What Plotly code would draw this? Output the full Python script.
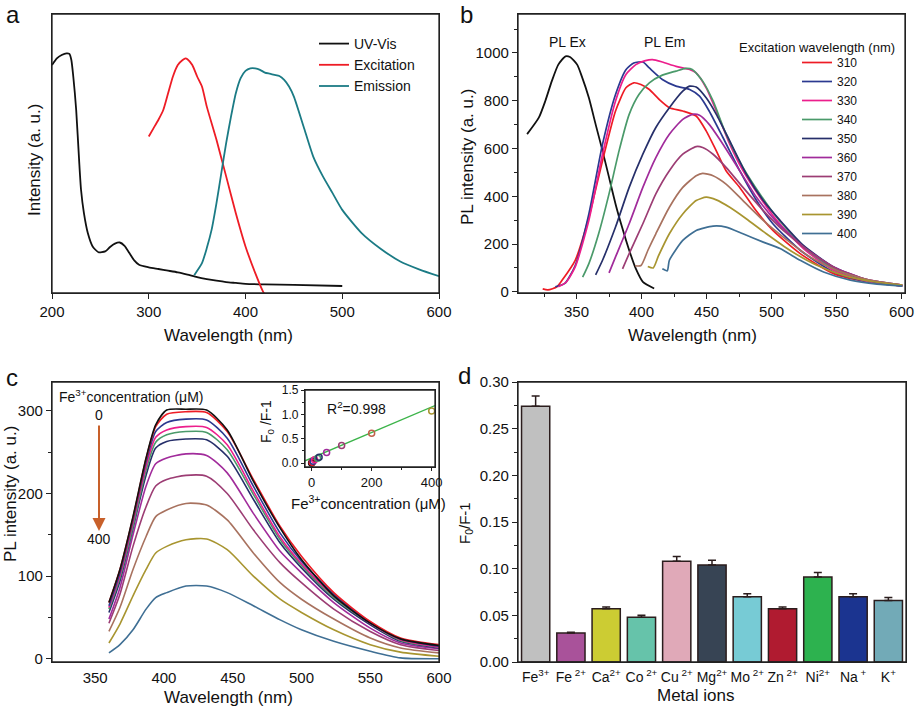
import plotly.graph_objects as go

W, H = 915, 706
FONT = "Liberation Sans, Arial, sans-serif"


def px(x):
    return x / W


def py(y):
    return 1 - y / H


# ---------------- Panel a data ----------------
uv_x = [200, 205, 210, 215, 218, 220, 222, 225, 228, 230, 233, 237, 242, 248, 255, 260, 265, 270, 275,
        280, 285, 290, 300, 310, 320, 330, 340, 350, 360, 370, 380, 390, 400, 420, 450, 500]
uv_y = [0.817, 0.841, 0.853, 0.859, 0.857, 0.835, 0.776, 0.656, 0.477, 0.370, 0.286, 0.215, 0.167, 0.146,
        0.149, 0.165, 0.177, 0.181, 0.169, 0.143, 0.117, 0.101, 0.092, 0.086, 0.080, 0.074, 0.066, 0.057,
        0.050, 0.044, 0.039, 0.036, 0.033, 0.031, 0.029, 0.025]
exc_x = [300, 305, 310, 315, 320, 325, 330, 335, 338, 340, 345, 350, 355, 360, 370, 380, 390, 400, 410, 418, 421]
exc_y = [0.561, 0.591, 0.621, 0.656, 0.716, 0.776, 0.817, 0.835, 0.841, 0.838, 0.817, 0.776, 0.740, 0.668,
         0.549, 0.418, 0.286, 0.167, 0.072, 0.006, -0.01]
emi_x = [347, 355, 360, 365, 370, 375, 380, 385, 390, 395, 400, 405, 410, 415, 420, 425, 430, 435, 440, 445,
         450, 460, 470, 480, 490, 500, 520, 540, 560, 580, 600]
emi_y = [0.064, 0.107, 0.161, 0.227, 0.322, 0.430, 0.537, 0.632, 0.716, 0.770, 0.796, 0.805, 0.805, 0.800,
         0.790, 0.786, 0.782, 0.778, 0.764, 0.740, 0.704, 0.597, 0.489, 0.418, 0.358, 0.298, 0.215, 0.158,
         0.113, 0.084, 0.060]

# ---------------- Panel b data ----------------
plex_x = [312, 321, 326, 331, 336, 341.5, 345, 350.5, 354, 359.5, 364.7, 370, 375, 380, 385, 390.5, 395.6, 401, 409.7]
plex_y = [660, 729, 799, 882, 951, 986, 983, 951, 903, 812, 701, 590, 479, 368, 271, 174, 97, 42, 14]

exc_wavelengths = ["310", "320", "330", "340", "350", "360", "370", "380", "390", "400"]
em_x = [
    [324, 328, 335, 339, 349, 359.5, 370, 380, 388, 394, 399.5, 406, 413.7, 421.4, 431.7, 442, 449.7, 457.5,
     465, 475.5, 488, 501, 522, 547.7, 573.5, 600.5],
    [333.7, 341, 349, 359.5, 370, 380, 388, 394, 401, 406, 416, 426.5, 437, 444.6, 452, 462.6, 475.5, 488.4,
     501, 522, 547.7, 573.5, 600.5],
    [336, 342, 349, 359.5, 370, 380, 388, 395.6, 403, 408.5, 416, 426.5, 437, 442, 449.7, 457.5, 467.8, 478,
     491, 504, 524.5, 547.7, 573.5, 600.5],
    [354.7, 359.5, 367, 375, 382.7, 390.5, 398, 406, 416, 426.5, 434, 439, 447, 455, 465, 478, 491, 504, 524.5,
     547.7, 573.5, 600.5],
    [364.7, 370, 380, 390.5, 401, 411, 421.4, 431.7, 437, 442, 449.7, 457.5, 467.8, 480.5, 493.6, 506.5, 524.5,
     547.7, 573.5, 600.5],
    [375, 380, 390.5, 401, 411, 421.4, 431.7, 439.4, 444.6, 452, 462.6, 475.5, 488.4, 504, 524.5, 547.7, 573.5, 600.5],
    [385.4, 390.5, 401, 411, 421.4, 431.7, 442, 447, 455, 465, 478, 493.6, 509, 529.6, 550, 573.5, 600.5],
    [395, 399.6, 405, 411, 421.4, 431.7, 442, 447, 455, 465, 478, 493.6, 509, 529.6, 550, 573.5, 600.5],
    [404.8, 409, 413, 421.4, 431.7, 442, 449.7, 457.5, 467.8, 480.5, 496, 514, 534.8, 555.4, 578.6, 600.5],
    [416, 419.8, 421.4, 431.7, 442, 455, 465, 478, 493.6, 506.5, 522, 540, 560.6, 581, 600.5],
]
em_y = [
    [12, 8, 21, 49, 132, 312, 549, 757, 854, 875, 868, 847, 805, 771, 757, 736, 674, 590, 507, 437, 340, 257,
     160, 76, 42, 24],
    [21, 35, 110, 326, 618, 826, 930, 958, 962, 937, 889, 861, 847, 819, 757, 646, 507, 382, 285, 174, 83, 42, 24],
    [21, 40, 104, 299, 576, 799, 910, 951, 968, 972, 962, 944, 931, 917, 854, 757, 618, 507, 396, 299, 181, 90, 44, 25],
    [61, 118, 243, 410, 590, 743, 826, 875, 907, 924, 935, 931, 882, 799, 660, 521, 410, 312, 188, 97, 49, 26],
    [71, 132, 271, 437, 576, 688, 771, 840, 861, 857, 812, 743, 632, 493, 382, 299, 194, 104, 49, 26],
    [79, 146, 285, 437, 562, 660, 722, 743, 739, 701, 618, 507, 396, 292, 188, 104, 51, 28],
    [96, 160, 285, 410, 507, 576, 608, 604, 576, 521, 437, 340, 257, 167, 97, 51, 28],
    [109, 110, 175, 243, 354, 437, 486, 496, 486, 451, 382, 299, 229, 146, 90, 51, 28],
    [106, 100, 150, 243, 326, 382, 396, 385, 354, 306, 243, 174, 111, 69, 42, 28],
    [96, 88, 132, 215, 257, 275, 271, 243, 208, 181, 132, 83, 49, 32, 24],
]
em_colors = ["#ee1c25", "#2b3990", "#ec1e8c", "#4a9a6a", "#262f6a", "#a12b9b", "#9c3d74", "#a8725f",
             "#a89530", "#3f6f94"]

# ---------------- Panel c data ----------------
c_x = [360, 368, 377.5, 387, 394, 402, 416, 431, 446, 465, 484.5, 500, 523.5, 550, 572, 600]
c_y = [
    [68, 108, 172, 243, 283, 301, 302, 301, 277, 215, 158, 120, 76, 43, 24, 16],
    [68, 108, 171, 242, 281, 296, 299, 298, 275, 217, 160, 124, 80, 45, 25, 17],
    [64, 104, 168, 238, 275, 286, 290, 289, 267, 209, 152, 118, 78, 44, 24, 15],
    [62, 101, 165, 233, 268, 277, 281, 280, 259, 203, 147, 115, 76, 43, 23, 14],
    [60, 98, 160, 228, 262, 271, 275, 274, 253, 199, 144, 113, 74, 43, 22, 14],
    [56, 94, 158, 222, 255, 263, 266, 265, 245, 193, 140, 110, 72, 41, 21, 13],
    [48, 86, 150, 209, 236, 243, 248, 246, 225, 176, 130, 104, 68, 37, 19, 12],
    [43, 78, 136, 184, 209, 217, 222, 221, 200, 156, 116, 92, 60, 33, 17, 10],
    [33, 62, 108, 148, 172, 180, 188, 186, 168, 128, 92, 72, 48, 25, 13, 7],
    [19, 42, 76, 108, 128, 136, 144, 145, 132, 100, 72, 56, 35, 17, 8, 3],
    [7, 17, 35, 60, 74, 80, 88, 88, 80, 64, 47, 35, 21, 9, 1, 0],
]
c_colors = ["#111111", "#ee1c25", "#2b3990", "#ec1e8c", "#4a9a6a", "#262f6a", "#a12b9b", "#9c3d74",
            "#a8725f", "#a89530", "#3f6f94"]

# inset
ins_conc = [0, 2, 5, 10, 20, 25, 50, 100, 200, 400]
ins_val = [0.00, 0.02, 0.04, 0.07, 0.10, 0.12, 0.22, 0.36, 0.61, 1.07]
ins_colors = ["#111111", "#ee1c25", "#2b3990", "#ec1e8c", "#4a9a6a", "#262f6a", "#a12b9b", "#9c3d74",
              "#c0604a", "#a89530"]
fit_x = [-22, 411]
fit_y = [0.047, 1.18]

# ---------------- Panel d data ----------------
ions = ["Fe<sup>3+</sup>", "Fe<sup> 2+</sup>", "Ca<sup>2+</sup>", "Co<sup> 2+</sup>", "Cu<sup> 2+</sup>",
        "Mg<sup>2+</sup>", "Mo<sup> 2+</sup>", "Zn<sup> 2+</sup>", "Ni<sup>2+</sup>", "Na<sup> +</sup>",
        "K<sup>+</sup>"]
ratio = [0.274, 0.031, 0.057, 0.048, 0.108, 0.104, 0.070, 0.057, 0.091, 0.070, 0.066]
ratio_err = [0.011, 0.001, 0.002, 0.002, 0.005, 0.005, 0.003, 0.002, 0.005, 0.003, 0.003]
bar_colors = ["#c0c0c0", "#a9529a", "#cccc33", "#66c3aa", "#e0a9b8", "#374454", "#77cbd5", "#b01b30",
              "#2db24f", "#1b3490", "#72aab7"]

# plotting-area boxes in pixels (left, right, top, bottom)
BOX_A = (52, 439, 14, 293)
BOX_B = (518, 905, 14, 293)
BOX_C = (52, 439, 382, 662)
BOX_IN = (305, 435, 390, 467)
BOX_D = (518, 906, 382, 662)

fig = go.Figure()

# Panel a
for xs, ys, nm, col in [(uv_x, uv_y, "UV-Vis", "#111111"), (exc_x, exc_y, "Excitation", "#ee1c25"),
                        (emi_x, emi_y, "Emission", "#1b7b85")]:
    fig.add_trace(go.Scatter(x=xs, y=ys, mode="lines", name=nm, xaxis="x", yaxis="y", legend="legend",
                             line=dict(color=col, width=1.8, shape="spline", smoothing=0.6)))

# Panel b
fig.add_trace(go.Scatter(x=plex_x, y=plex_y, mode="lines", showlegend=False, xaxis="x2", yaxis="y2",
                         line=dict(color="#111111", width=1.8, shape="spline", smoothing=0.6)))
for xs, ys, nm, col in zip(em_x, em_y, exc_wavelengths, em_colors):
    fig.add_trace(go.Scatter(x=xs, y=ys, mode="lines", name=nm, xaxis="x2", yaxis="y2", legend="legend2",
                             line=dict(color=col, width=1.7, shape="spline", smoothing=0.6)))

# Panel c
for ys, col in reversed(list(zip(c_y, c_colors))):
    fig.add_trace(go.Scatter(x=c_x, y=ys, mode="lines", showlegend=False, xaxis="x3", yaxis="y3",
                             line=dict(color=col, width=1.6, shape="spline", smoothing=0.7)))

# Inset
fig.add_trace(go.Scatter(x=fit_x, y=fit_y, mode="lines", showlegend=False, xaxis="x4", yaxis="y4",
                         line=dict(color="#3cb44a", width=1.4)))
fig.add_trace(go.Scatter(x=ins_conc, y=ins_val, mode="markers", showlegend=False, xaxis="x4", yaxis="y4",
                         marker=dict(symbol="circle-open", size=6, color=ins_colors, line=dict(width=1.5))))

# Panel d
fig.add_trace(go.Bar(x=ions, y=ratio, xaxis="x5", yaxis="y5", showlegend=False, width=0.8,
                     marker=dict(color=bar_colors, line=dict(color="#2b1d1d", width=1.5)),
                     error_y=dict(type="data", array=ratio_err, arrayminus=[0] * len(ratio_err),
                                  symmetric=False, color="#2b1d1d", thickness=1.5, width=4)))

axbase = dict(showline=True, linecolor="#222222", linewidth=1.3, mirror=True, showgrid=False, zeroline=False,
              ticks="outside", ticklen=5, tickwidth=1.2, tickcolor="#222222",
              tickfont=dict(family=FONT, size=15, color="#111111"), automargin=False)


def xdom(b):
    return [px(b[0]), px(b[1])]


def ydom(b):
    return [py(b[3]), py(b[2])]


fig.update_layout(
    width=W, height=H, margin=dict(l=0, r=0, t=0, b=0),
    paper_bgcolor="white", plot_bgcolor="white",
    font=dict(family=FONT, color="#111111"),
    xaxis=dict(axbase, domain=xdom(BOX_A), range=[200, 600], dtick=100, anchor="y"),
    yaxis=dict(axbase, domain=ydom(BOX_A), range=[0, 1], showticklabels=False, ticks="", anchor="x"),
    xaxis2=dict(axbase, domain=xdom(BOX_B), range=[305, 602.6], tick0=350, dtick=50, anchor="y2",
                minor=dict(dtick=25, ticks="outside", ticklen=3, tickcolor="#222222")),
    yaxis2=dict(axbase, domain=ydom(BOX_B), range=[-5, 1163], dtick=200, anchor="x2",
                minor=dict(dtick=100, ticks="outside", ticklen=3, tickcolor="#222222")),
    xaxis3=dict(axbase, domain=xdom(BOX_C), range=[318.6, 600], tick0=350, dtick=50, ticks="",
                ticklabelstandoff=2, anchor="y3"),
    yaxis3=dict(axbase, domain=ydom(BOX_C), range=[-4, 335], dtick=100, anchor="x3",
                minor=dict(dtick=50, ticks="outside", ticklen=3, tickcolor="#222222")),
    xaxis4=dict(axbase, domain=xdom(BOX_IN), range=[-22, 411], tickvals=[0, 200, 400], anchor="y4",
                tickfont=dict(family=FONT, size=13, color="#111111"), ticklen=3,
                minor=dict(dtick=100, ticks="outside", ticklen=2, tickcolor="#222222")),
    yaxis4=dict(axbase, domain=ydom(BOX_IN), range=[-0.08, 1.5], dtick=0.5, tickformat=".1f",
                anchor="x4", ticklen=3, tickfont=dict(family=FONT, size=12, color="#111111"),
                minor=dict(dtick=0.25, ticks="outside", ticklen=2, tickcolor="#222222")),
    xaxis5=dict(axbase, domain=xdom(BOX_D), range=[-0.5, 10.5], ticks="", anchor="y5",
                tickfont=dict(family=FONT, size=14, color="#111111"), ticklabelstandoff=2),
    yaxis5=dict(axbase, domain=ydom(BOX_D), range=[0, 0.30], dtick=0.05, tickformat=".2f", anchor="x5",
                minor=dict(dtick=0.025, ticks="outside", ticklen=3, tickcolor="#222222")),
    legend=dict(x=px(314), y=py(28), xanchor="left", yanchor="top", bgcolor="rgba(0,0,0,0)",
                font=dict(family=FONT, size=14, color="#111111"), tracegroupgap=0),
    legend2=dict(x=px(797), y=py(48), xanchor="left", yanchor="top", bgcolor="rgba(0,0,0,0)",
                 font=dict(family=FONT, size=12, color="#111111"), tracegroupgap=0),
)

# frames around each plotting area (paper-referenced so that nothing clips them)
for b in [BOX_A, BOX_B, BOX_C, BOX_IN, BOX_D]:
    fig.add_shape(type="rect", xref="paper", yref="paper", x0=px(b[0]), x1=px(b[1]), y0=py(b[3]), y1=py(b[2]),
                  line=dict(color="#222222", width=1.3), fillcolor="rgba(0,0,0,0)", layer="above")

ann = []


def txt(x, y, t, size, angle=0, xanchor="center", yanchor="middle"):
    ann.append(dict(x=px(x), y=py(y), xref="paper", yref="paper", text=t, showarrow=False,
                    textangle=angle, xanchor=xanchor, yanchor=yanchor,
                    font=dict(family=FONT, size=size, color="#111111")))


# panel letters
txt(13, 15, "a", 24)
txt(466, 15, "b", 24)
txt(12, 377, "c", 24)
txt(464, 375, "d", 24)
# axis titles
txt(34, 160, "Intensity (a. u.)", 17, -90)
txt(228, 335, "Wavelength (nm)", 17)
txt(467, 157, "PL intensity (a. u.)", 17, -90)
txt(692, 335, "Wavelength (nm)", 17)
txt(10, 494, "PL intensity (a. u.)", 17, -90)
txt(228, 697, "Wavelength (nm)", 17)
txt(465, 523, "F<sub>0</sub>/F-1", 15, -90)
txt(695, 695, "Metal ions", 17)
# panel b texts
txt(567, 42, "PL Ex", 14)
txt(665, 42, "PL Em", 14)
txt(737, 47, "Excitation wavelength (nm)", 13, xanchor="left")
# panel c texts
txt(57, 396, "Fe<sup>3+</sup>concentration (μM)", 14, xanchor="left")
txt(99, 415, "0", 14)
txt(99, 539, "400", 14)
txt(356, 408, "R<sup>2</sup>=0.998", 14)
txt(267, 422, "F<sub>0</sub> /F-1", 14, -90)
txt(368, 502, "Fe<sup>3+</sup>concentration (μM)", 15)
# arrow
ann.append(dict(x=px(99), y=py(531), xref="paper", yref="paper", ax=0, ay=-107, text="", showarrow=True,
                arrowhead=2, arrowsize=1.3, arrowwidth=2, arrowcolor="#c8602a"))

fig.update_layout(annotations=ann)
fig.write_html("out.html", config={"displayModeBar": False},
               post_script="document.body.style.margin='0px';")
